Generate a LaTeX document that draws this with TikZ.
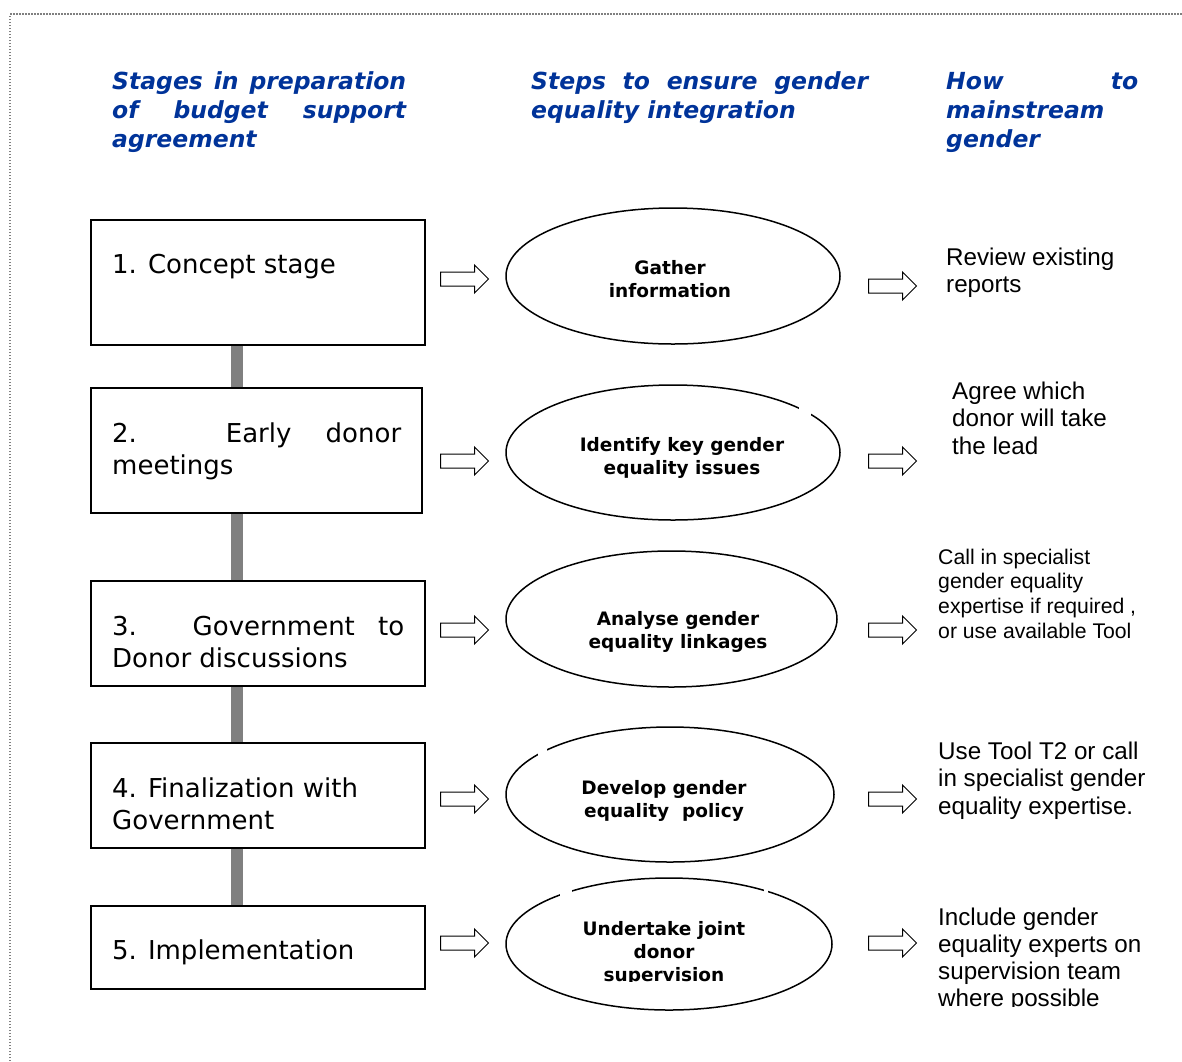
\documentclass[tikz,border=0pt]{standalone}
\usepackage{fontspec}
\setmainfont{Liberation Sans}
\newfontfamily\verd{DejaVu Sans}
\usetikzlibrary{shapes.geometric,shapes.arrows}
\definecolor{hdblue}{RGB}{0,51,153}
\definecolor{bargrey}{RGB}{128,128,128}
\tikzset{
  hdr/.style={anchor=base west,inner sep=0pt,text=hdblue,font=\verd\bfseries\itshape\fontsize{23.5}{29}\selectfont},
  stagebox/.style={draw,line width=1.6pt,inner sep=0pt},
  stagetxt/.style={anchor=base west,inner sep=0pt,font=\verd\fontsize{26}{32}\selectfont},
  oval/.style={draw,ellipse,line width=1.5pt,inner sep=0pt},
  ovaltxt/.style={anchor=base,inner sep=0pt,font=\verd\bfseries\fontsize{18.5}{23}\selectfont},
  hollow/.style={draw,single arrow,line width=1pt,minimum height=48pt,inner xsep=0pt,inner ysep=6.5pt,
     single arrow head extend=7pt,single arrow tip angle=90,anchor=tail},
  sidetxt/.style={anchor=base west,inner sep=0pt},
  link/.style={draw=bargrey,line width=12pt}
}
\begin{document}
\begin{tikzpicture}[x=1pt,y=-1pt]
\useasboundingbox (0,0) rectangle (1182,1061);
% dotted frame
\draw[gray,line width=1.5pt,dash pattern=on 1.5pt off 1.5pt] (10,1061) -- (10,14) -- (1182,14);

% headers
\node[hdr] (h1) at (112,89) {\parbox[t]{294pt}{\makebox[294pt][s]{Stages in preparation}\\\makebox[294pt][s]{of budget support}\\agreement}};
\node[hdr] (h2) at (531,89) {\parbox[t]{337pt}{\makebox[337pt][s]{Steps to ensure gender}\\equality integration}};
\node[hdr] (h3) at (946,89) {\parbox[t]{192pt}{\makebox[192pt][s]{How to}\\mainstream\\gender}};

% stage boxes
\node[stagebox,minimum width=334pt,minimum height=125pt] (b1) at (258,282.5) {};
\node[stagebox,minimum width=331pt,minimum height=125pt] (b2) at (256.5,450.5) {};
\node[stagebox,minimum width=334pt,minimum height=105pt] (b3) at (258,633.5) {};
\node[stagebox,minimum width=334pt,minimum height=105pt] (b4) at (258,795.5) {};
\node[stagebox,minimum width=334pt,minimum height=83pt] (b5) at (258,947.5) {};

\node[stagetxt] (t1) at (112,273) {1. Concept stage};
\node[stagetxt] (t2) at (112,442) {\parbox[t]{289pt}{\makebox[289pt][s]{2. Early donor}\\meetings}};
\node[stagetxt] (t3) at (112,635) {\parbox[t]{292pt}{\makebox[292pt][s]{3. Government to}\\Donor discussions}};
\node[stagetxt] (t4) at (112,797) {\parbox[t]{292pt}{4. Finalization with\\Government}};
\node[stagetxt] (t5) at (112,959) {5. Implementation};

% grey links between the stage boxes
\coordinate (lx) at (237,0);
\path[link] (b1.south -| lx) -- (b2.north -| lx);
\path[link] (b2.south -| lx) -- (b3.north -| lx);
\path[link] (b3.south -| lx) -- (b4.north -| lx);
\path[link] (b4.south -| lx) -- (b5.north -| lx);

% ellipses
\node[oval,minimum width=334pt,minimum height=136pt] (e1) at (673,276) {};
\node[oval,minimum width=334pt,minimum height=135pt] (e2) at (673,452.5) {};
\node[oval,minimum width=331pt,minimum height=136pt] (e3) at (671.5,619) {};
\node[oval,minimum width=328pt,minimum height=135pt] (e4) at (670,794.5) {};
\node[oval,minimum width=326pt,minimum height=132pt] (e5) at (669,944) {};
% small breaks in the outlines
\fill[white] (799,403) rectangle (811,416);
\fill[white] (538,744) rectangle (547,756);
\fill[white] (560,886) rectangle (572,898);
\fill[white] (764,885) rectangle (768,897);

\node[ovaltxt] (g1) at (670,274) {\parbox[t]{220pt}{\centering Gather\\information}};
\node[ovaltxt] (g2) at (682,451) {\parbox[t]{260pt}{\centering Identify key gender\\equality issues}};
\node[ovaltxt] (g3) at (678,625) {\parbox[t]{260pt}{\centering Analyse gender\\equality linkages}};
\node[ovaltxt] (g4) at (664,794) {\parbox[t]{260pt}{\centering Develop gender\\equality\ \ policy}};
\begin{scope}
\clip (500,900) rectangle (840,981);
\node[ovaltxt] (g5) at (664,935) {\parbox[t]{260pt}{\centering Undertake joint\\donor\\supervision}};
\end{scope}

% hollow arrows
\node[hollow] (la1) at (440,279) {};
\node[hollow] (la2) at (440,461) {};
\node[hollow] (la3) at (440,630) {};
\node[hollow] (la4) at (440,799) {};
\node[hollow] (la5) at (440,943) {};
\node[hollow] (ra1) at (868,286) {};
\node[hollow] (ra2) at (868,461) {};
\node[hollow] (ra3) at (868,630) {};
\node[hollow] (ra4) at (868,799) {};
\node[hollow] (ra5) at (868,943) {};

% right-hand texts
\node[sidetxt,font=\fontsize{24.2}{27.5}\selectfont] (r1) at (946,265) {\parbox[t]{230pt}{Review existing\\reports}};
\node[sidetxt,font=\fontsize{24.2}{27.5}\selectfont] (r2) at (952,399) {\parbox[t]{230pt}{Agree which\\donor will take\\the lead}};
\node[sidetxt,font=\fontsize{21.2}{24.7}\selectfont] (r3) at (938,564) {\parbox[t]{240pt}{Call in specialist\\gender equality\\expertise if required ,\\or use available Tool}};
\node[sidetxt,font=\fontsize{24.2}{27.5}\selectfont] (r4) at (938,759) {\parbox[t]{240pt}{Use Tool T2 or call\\in specialist gender\\equality expertise.}};
\begin{scope}
\clip (930,890) rectangle (1182,1006);
\node[sidetxt,font=\fontsize{24.2}{27.3}\selectfont] (r5) at (938,925) {\parbox[t]{240pt}{Include gender\\equality experts on\\supervision team\\where possible}};
\end{scope}
\end{tikzpicture}
\end{document}
